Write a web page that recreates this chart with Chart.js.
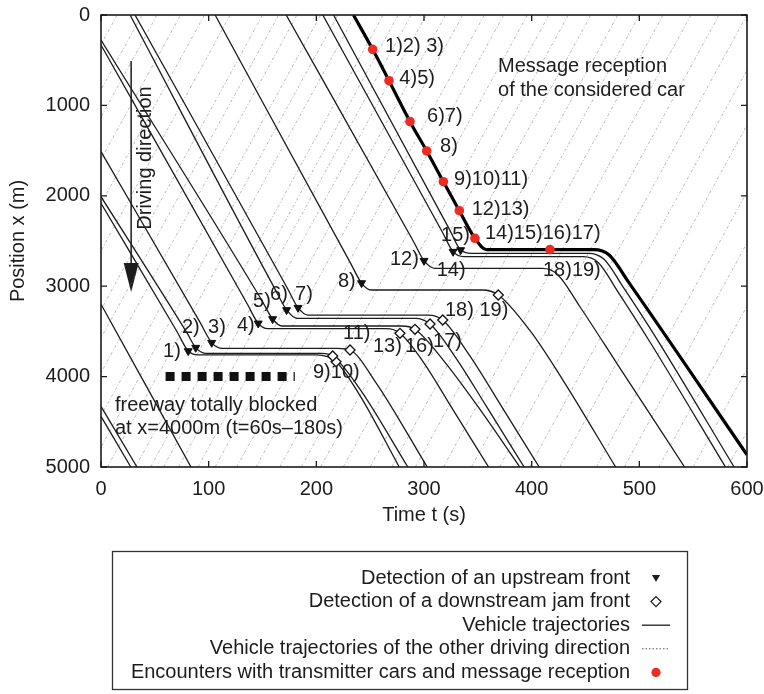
<!DOCTYPE html>
<html>
<head>
<meta charset="utf-8">
<title>Vehicle trajectories and jam front detection</title>
<script src="https://cdn.jsdelivr.net/npm/chart.js@4.4.1/dist/chart.umd.min.js"></script>
<style>
  html, body { margin: 0; padding: 0; background: #ffffff; }
  #wrap { width: 764px; height: 694px; }
</style>
</head>
<body>
<div id="wrap"><canvas id="chart" width="764" height="694"></canvas></div>
<script>
// ---- axes -------------------------------------------------------------
const timeTicks = [0, 100, 200, 300, 400, 500, 600];        // t (s)
const posTicks  = [0, 1000, 2000, 3000, 4000, 5000];         // x (m)

// ---- vehicle trajectories in the driving direction, [t (s), x (m)] ------
const freeA  = [[0, 4440], [27.7, 5000]];
const freeB  = [[0, 4330], [33.4, 5000]];
const freeC  = [[0, 3200], [83.6, 5000]];
const car1   = [[0, 2083], [70, 3490], [81, 3717], [90, 3760], [200, 3760], [218.3, 3835], [240, 4200], [277, 5000]];
const car2   = [[0, 2010], [80, 3520], [88, 3680], [97, 3742], [205, 3742], [215.2, 3772], [240, 4130], [285, 5000]];
const car3   = [[0, 1512], [92, 3400], [102.8, 3625], [112, 3687], [220, 3687], [231.3, 3706], [255, 4060], [303, 5000]];
const car4   = [[0, 332], [136, 3200], [146, 3411], [155, 3470], [265, 3470], [277.7, 3521], [300, 3850], [325, 4330], [360, 5000]];
const car5   = [[0, 277], [149, 3150], [159.4, 3363], [168, 3440], [279, 3440], [291.6, 3477], [318, 3820], [350, 4330], [389, 5000]];
const car6   = [[27, 0], [162, 3040], [172.4, 3263], [182, 3355], [292, 3355], [305.6, 3418], [330, 3800], [358, 4330], [393, 5000]];
const car7   = [[31.6, 0], [173, 3020], [183, 3238], [192, 3319], [304, 3319], [317.4, 3374], [342, 3760], [372, 4330], [407, 5000]];
const car8   = [[106, 0], [232, 2750], [242, 2965], [251, 3042], [354, 3042], [369, 3097], [398, 3484], [429, 4038], [478, 5000]];
const car12  = [[172, 0], [290, 2500], [300, 2718], [310, 2802], [410, 2802], [424, 2870], [445, 3230], [480, 3870], [542, 5000]];
const car15a = [[206, 0], [317, 2400], [327, 2618], [337, 2673], [448, 2673], [462, 2740], [480, 3060], [510, 3620], [580, 5000]];
const car15b = [[216, 0], [324, 2380], [334, 2600], [344, 2636], [453, 2636], [467, 2700], [485, 3010], [515, 3560], [588, 5000]];
// the considered car (bold)
const ownCar = [[234.5, 0], [252.3, 380], [267.5, 727], [287, 1180], [302.5, 1504], [318, 1844], [332.8, 2165],
                [347.3, 2470], [358, 2595], [417, 2595], [458, 2595], [472, 2655], [490, 2955], [600, 4865]];

// ---- vehicles of the other driving direction: time at x = 5000 m and at x = 0 m ----
const otherAtEnd   = [-215, -192, -178, -158, -134, -110, -80, -66, -48, -26, -10, 6, 32, 46, 58, 72, 90, 106, 126, 144, 166, 186, 204, 225, 250, 270, 292, 318, 344, 370, 398, 426, 460, 486, 518, 550, 582, 612];
const otherAtStart = [15, 38, 52, 74, 96, 120, 150, 165, 182, 204, 220, 236, 262, 276, 288, 302, 320, 336, 356, 374, 396, 416, 434, 455, 480, 500, 522, 548, 574, 600, 628, 656, 690, 716, 748, 780, 812, 842];

// ---- events --------------------------------------------------------------
const upstreamFrontT   = [81, 88, 102.8, 146, 159.4, 172.4, 183, 242, 300, 327, 334];
const upstreamFrontX   = [3717, 3680, 3625, 3411, 3363, 3263, 3238, 2965, 2718, 2618, 2600];
const downstreamFrontT = [218.3, 215.2, 231.3, 277.7, 291.6, 305.6, 317.4, 369];
const downstreamFrontX = [3835, 3772, 3706, 3521, 3477, 3418, 3374, 3097];
const receptionT = [252.3, 267.5, 287, 302.5, 318, 332.8, 347.3, 417];
const receptionX = [380, 727, 1180, 1504, 1844, 2165, 2470, 2595];

// freeway blocked at x = 4000 m between t = 60 s and t = 180 s
const blockageT = [60, 180];
const blockageX = 4000;

// ---- annotation texts: [t, x, text] (left edge, vertical centre) ----------
const eventLabels = [
  [263.8, 343, '1)2) 3)'], [277.1, 705, '4)5)'], [302.8, 1128, '6)7)'], [314.9, 1457, '8)'],
  [327.9, 1825, '9)10)11)'], [344.3, 2149, '12)13)'], [356.6, 2412, '14)15)16)17)'],
  [315.8, 2434, '15)'], [268.4, 2710, '12)'], [311.8, 2821, '14)'], [410.5, 2821, '18)19)'],
  [220.1, 2950, '8)'], [319.5, 3271, '18) 19)'], [224.8, 3518, '11)'], [252.6, 3669, '13)'],
  [282.3, 3669, '16)'], [308.4, 3614, '17)'], [196.9, 3949, '9)10)'],
  [57.6, 3725, '1)'], [75.2, 3462, '2)'], [99.4, 3462, '3)'], [126.3, 3440, '4)'],
  [141.2, 3171, '5)'], [157, 3097, '6)'], [180.2, 3097, '7)']
];
const noteLabels = [
  [368.8, 572, 'Message reception'], [368.8, 830, 'of the considered car'],
  [13, 4314, 'freeway totally blocked'], [13, 4569, 'at x=4000m (t=60s\u2013180s)']
];
const directionLabel = [40.9, 1582, 'Driving direction'];
const directionArrow = { t: 28, from: 510, to: 3064 };

const legendRows = [
  'Detection of an upstream front',
  'Detection of a downstream jam front',
  'Vehicle trajectories',
  'Vehicle trajectories of the other driving direction',
  'Encounters with transmitter cars and message reception'
];

// ---- styling -----------------------------------------------------------
const FONT = '"Liberation Sans", Arial, Helvetica, sans-serif';
const INK = '#1c1c1c';
const RED = '#ec2b23';
const GREY = 'rgba(120,120,120,0.5)';

const pts = arr => arr.map(p => ({ x: p[0], y: p[1] }));
const zipPts = (ts, xs) => ts.map((t, i) => ({ x: t, y: xs[i] }));

const datasets = [];
otherAtEnd.forEach((t0, i) => {
  datasets.push({
    data: [{ x: t0, y: 5000 }, { x: otherAtStart[i], y: 0 }],
    borderColor: GREY, borderWidth: 1, borderDash: [3, 2, 1, 2], pointRadius: 0, order: 20
  });
});
[freeA, freeB, freeC, car1, car2, car3, car4, car5, car6, car7, car8, car12, car15a, car15b].forEach(tr => {
  datasets.push({
    data: pts(tr), borderColor: INK, borderWidth: 1.3, pointRadius: 0,
    cubicInterpolationMode: 'monotone', order: 10
  });
});
datasets.push({
  data: pts(ownCar), borderColor: '#000', borderWidth: 3.2, pointRadius: 0,
  cubicInterpolationMode: 'monotone', order: 8
});
datasets.push({
  data: blockageT.map(t => ({ x: t, y: blockageX })),
  borderColor: '#111', borderWidth: 9, borderDash: [9, 7], borderCapStyle: 'butt', pointRadius: 0, order: 9
});
datasets.push({
  data: zipPts(upstreamFrontT, upstreamFrontX), showLine: false,
  pointStyle: 'triangle', rotation: 180, pointRadius: 4.6,
  pointBackgroundColor: '#111', pointBorderColor: '#111', pointBorderWidth: 1, order: 2
});
datasets.push({
  data: zipPts(downstreamFrontT, downstreamFrontX), showLine: false,
  pointStyle: 'rectRot', pointRadius: 5,
  pointBackgroundColor: '#fff', pointBorderColor: '#111', pointBorderWidth: 1.3, order: 2
});
datasets.push({
  data: zipPts(receptionT, receptionX), showLine: false,
  pointStyle: 'circle', pointRadius: 4.8,
  pointBackgroundColor: RED, pointBorderColor: RED, pointBorderWidth: 0, order: 1
});

// texts and the driving-direction arrow, drawn underneath the trajectories
const annotations = {
  id: 'annotations',
  beforeDatasetsDraw(chart) {
    const { ctx, scales: { x, y } } = chart;
    ctx.save();
    ctx.fillStyle = INK;
    ctx.font = '20px ' + FONT;
    ctx.textAlign = 'left';
    ctx.textBaseline = 'middle';
    eventLabels.concat(noteLabels).forEach(([t, p, s]) => {
      ctx.fillText(s, x.getPixelForValue(t), y.getPixelForValue(p));
    });
    // rotated direction text
    ctx.save();
    ctx.translate(x.getPixelForValue(directionLabel[0]), y.getPixelForValue(directionLabel[1]));
    ctx.rotate(-Math.PI / 2);
    ctx.textAlign = 'center';
    ctx.fillText(directionLabel[2], 0, 0);
    ctx.restore();
    // arrow
    const ax = x.getPixelForValue(directionArrow.t);
    const y0 = y.getPixelForValue(directionArrow.from);
    const y1 = y.getPixelForValue(directionArrow.to);
    ctx.strokeStyle = INK;
    ctx.lineWidth = 1.5;
    ctx.beginPath();
    ctx.moveTo(ax, y0);
    ctx.lineTo(ax, y1 - 26);
    ctx.stroke();
    ctx.beginPath();
    ctx.moveTo(ax - 7.5, y1 - 29);
    ctx.lineTo(ax + 7.5, y1 - 29);
    ctx.lineTo(ax, y1);
    ctx.closePath();
    ctx.fill();
    ctx.restore();
  }
};

// box frame with inward ticks on all four sides
const frame = {
  id: 'frame',
  afterDatasetsDraw(chart) {
    const { ctx, chartArea: a, scales: { x, y } } = chart;
    ctx.save();
    ctx.strokeStyle = INK;
    ctx.lineWidth = 1.6;
    ctx.strokeRect(a.left, a.top, a.right - a.left, a.bottom - a.top);
    ctx.lineWidth = 1.3;
    const L = 6;
    ctx.beginPath();
    timeTicks.forEach(v => {
      const px = x.getPixelForValue(v);
      ctx.moveTo(px, a.bottom); ctx.lineTo(px, a.bottom - L);
      ctx.moveTo(px, a.top); ctx.lineTo(px, a.top + L);
    });
    posTicks.forEach(v => {
      const py = y.getPixelForValue(v);
      ctx.moveTo(a.left, py); ctx.lineTo(a.left + L, py);
      ctx.moveTo(a.right, py); ctx.lineTo(a.right - L, py);
    });
    ctx.stroke();
    ctx.restore();
  }
};

// legend box below the axis: text right-aligned, symbol on the right
const legendBox = {
  id: 'legendBox',
  afterDraw(chart) {
    const { ctx } = chart;
    const box = { left: 112, top: 551, right: 687, bottom: 689 };
    const textRight = 630, symX = 656, row0 = 578, rowStep = 23.6;
    ctx.save();
    ctx.strokeStyle = '#333';
    ctx.lineWidth = 1.3;
    ctx.strokeRect(box.left + 0.5, box.top + 0.5, box.right - box.left, box.bottom - box.top);
    ctx.fillStyle = INK;
    ctx.font = '20px ' + FONT;
    ctx.textAlign = 'right';
    ctx.textBaseline = 'middle';
    legendRows.forEach((s, i) => ctx.fillText(s, textRight, row0 + i * rowStep));
    // symbols
    let yy = row0;
    ctx.beginPath();
    ctx.moveTo(symX - 4, yy - 3); ctx.lineTo(symX + 4, yy - 3); ctx.lineTo(symX, yy + 4); ctx.closePath();
    ctx.fill();
    yy += rowStep;
    ctx.beginPath();
    ctx.moveTo(symX, yy - 5); ctx.lineTo(symX + 5, yy); ctx.lineTo(symX, yy + 5); ctx.lineTo(symX - 5, yy); ctx.closePath();
    ctx.fillStyle = '#fff'; ctx.fill();
    ctx.strokeStyle = INK; ctx.lineWidth = 1.3; ctx.stroke();
    yy += rowStep;
    ctx.beginPath(); ctx.moveTo(642, yy); ctx.lineTo(670, yy); ctx.stroke();
    yy += rowStep;
    ctx.setLineDash([1.5, 2]);
    ctx.strokeStyle = '#555';
    ctx.lineWidth = 1;
    ctx.beginPath(); ctx.moveTo(642, yy); ctx.lineTo(668, yy); ctx.stroke();
    ctx.setLineDash([]);
    yy += rowStep;
    ctx.fillStyle = RED;
    ctx.beginPath(); ctx.arc(symX, yy, 4.6, 0, Math.PI * 2); ctx.fill();
    ctx.restore();
  }
};

new Chart(document.getElementById('chart'), {
  type: 'line',
  data: { datasets },
  options: {
    responsive: false,
    devicePixelRatio: 1,
    animation: false,
    events: [],
    layout: { padding: { top: 15, right: 17, bottom: 167, left: 0 } },
    plugins: { legend: { display: false }, tooltip: { enabled: false } },
    scales: {
      x: {
        type: 'linear', min: 0, max: 600,
        afterBuildTicks: s => { s.ticks = timeTicks.map(v => ({ value: v })); },
        afterFit: s => { s.height = 60; s.paddingLeft = 0; s.paddingRight = 0; },
        grid: { display: false, drawTicks: false },
        border: { display: false },
        ticks: { padding: 10, color: INK, font: { family: FONT, size: 20 }, maxRotation: 0, callback: v => String(v) },
        title: { display: true, text: 'Time t (s)', color: INK, font: { family: FONT, size: 20 }, padding: { top: 0, bottom: 0 } }
      },
      y: {
        type: 'linear', min: 0, max: 5000, reverse: true,
        afterBuildTicks: s => { s.ticks = posTicks.map(v => ({ value: v })); },
        afterFit: s => { s.width = 101; s.paddingTop = 0; s.paddingBottom = 0; },
        grid: { display: false, drawTicks: false },
        border: { display: false },
        ticks: { padding: 11, color: INK, font: { family: FONT, size: 20 }, callback: v => String(v) },
        title: { display: true, text: 'Position x (m)', color: INK, font: { family: FONT, size: 20 }, padding: { top: 6, bottom: 0 } }
      }
    }
  },
  plugins: [annotations, frame, legendBox]
});
</script>
</body>
</html>
